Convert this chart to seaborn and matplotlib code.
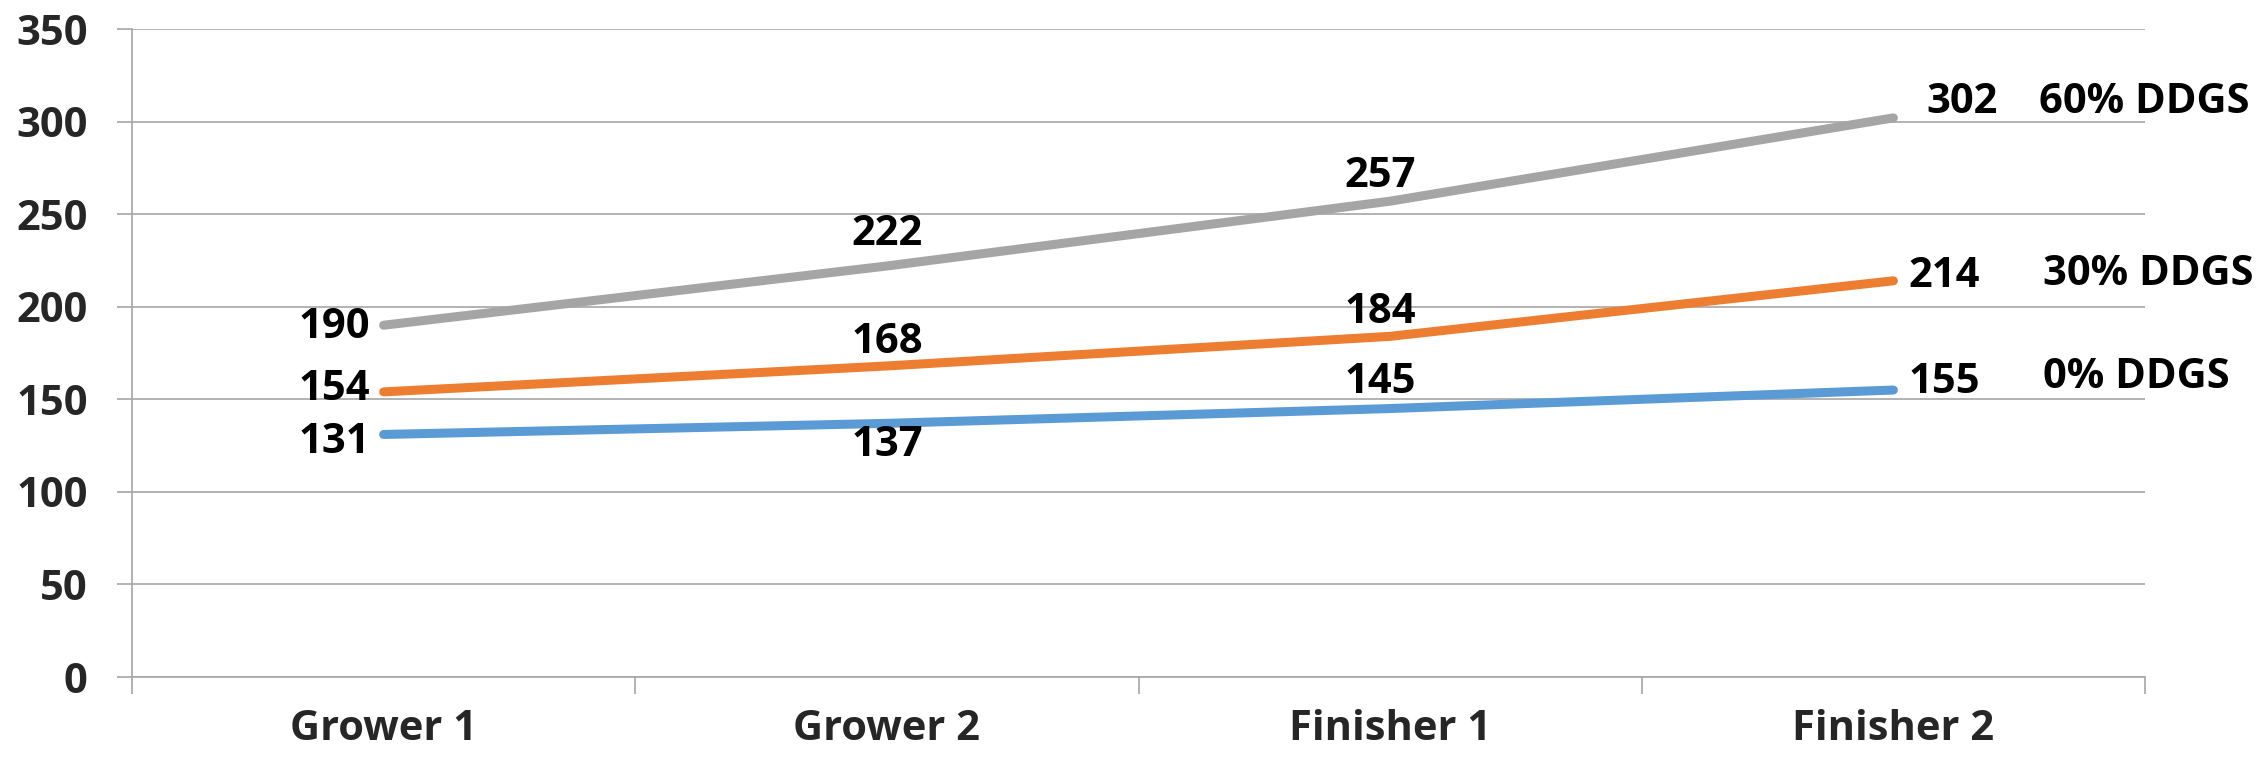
import matplotlib
matplotlib.use("Agg")
import matplotlib.pyplot as plt
import pandas as pd
import seaborn as sns

# Data
stages = ["Grower 1", "Grower 2", "Finisher 1", "Finisher 2"]
series_names = ["0% DDGS", "30% DDGS", "60% DDGS"]
ddgs_0 = [131, 137, 145, 155]
ddgs_30 = [154, 168, 184, 214]
ddgs_60 = [190, 222, 257, 302]
y_ticks = [0, 50, 100, 150, 200, 250, 300, 350]

series_values = {"0% DDGS": ddgs_0, "30% DDGS": ddgs_30, "60% DDGS": ddgs_60}
colors = {"0% DDGS": "#5B9BD5", "30% DDGS": "#ED7D31", "60% DDGS": "#A5A5A5"}

df = pd.DataFrame({
    "pos": [i for _ in series_names for i in range(len(stages))],
    "value": ddgs_0 + ddgs_30 + ddgs_60,
    "series": [s for s in series_names for _ in stages],
})

# Value-label offsets (pixels) relative to each point
label_offsets = {
    "0% DDGS": [(-49, -8), (0, -22), (-10, 26), (51, 8)],
    "30% DDGS": [(-49, 2), (0, 23), (-10, 24), (51, 4)],
    "60% DDGS": [(-49, -2), (0, 31), (-10, 25), (69, 15)],
}
name_offsets = {"0% DDGS": (150, 13), "30% DDGS": (150, 6), "60% DDGS": (146, 15)}

sns.set_theme(style="white")
plt.rcParams["font.family"] = ["Open Sans", "DejaVu Sans"]
plt.rcParams["font.weight"] = "bold"

grid_color = "#A6A6A6"
fs = 30
fw = "bold"

fig = plt.figure(figsize=(22.58, 7.58), dpi=100)
ax = fig.add_axes([0.05846, 0.10686, 0.8915, 0.85488])

sns.lineplot(data=df, x="pos", y="value", hue="series", palette=colors,
             linewidth=6.5, sort=False, legend=False, ax=ax, zorder=3)
for ln in ax.lines:
    ln.set_solid_capstyle("round")
    ln.set_solid_joinstyle("round")

ax.set_xlim(-0.5, len(stages) - 0.5)
ax.set_ylim(0, 350)
ax.set_xlabel("")
ax.set_ylabel("")

ax.set_yticks(y_ticks)
ax.set_yticklabels([str(v) for v in y_ticks], fontsize=fs, fontweight=fw)
ax.set_xticks([i - 0.5 for i in range(len(stages) + 1)])
ax.set_xticklabels([])
ax.set_xticks(range(len(stages)), labels=stages, minor=True)
for t in ax.get_xticklabels(minor=True):
    t.set_fontsize(fs)
    t.set_fontweight(fw)

ax.tick_params(axis="y", left=True, length=11, width=1.2, color=grid_color, pad=21)
ax.tick_params(axis="x", which="major", bottom=True, length=12.5, width=1.2, color=grid_color)
ax.tick_params(axis="x", which="minor", bottom=True, length=0, pad=23)

ax.yaxis.grid(True, color=grid_color, linewidth=1.2)
ax.set_axisbelow(True)
for side in ["top", "right"]:
    ax.spines[side].set_visible(False)
for side in ["left", "bottom"]:
    ax.spines[side].set_color(grid_color)
    ax.spines[side].set_linewidth(1.2)

for name in series_names:
    vals = series_values[name]
    for i, v in enumerate(vals):
        dx, dy = label_offsets[name][i]
        ax.annotate(str(v), xy=(i, v), xytext=(dx, dy), textcoords="offset pixels",
                    ha="center", va="center", fontsize=fs, fontweight=fw,
                    color="black", annotation_clip=False)
    dx, dy = name_offsets[name]
    ax.annotate(name, xy=(len(vals) - 1, vals[-1]), xytext=(dx, dy),
                textcoords="offset pixels", ha="left", va="center",
                fontsize=fs, fontweight=fw, color="black", annotation_clip=False)

fig.savefig("out.png", dpi=100, facecolor="white")
